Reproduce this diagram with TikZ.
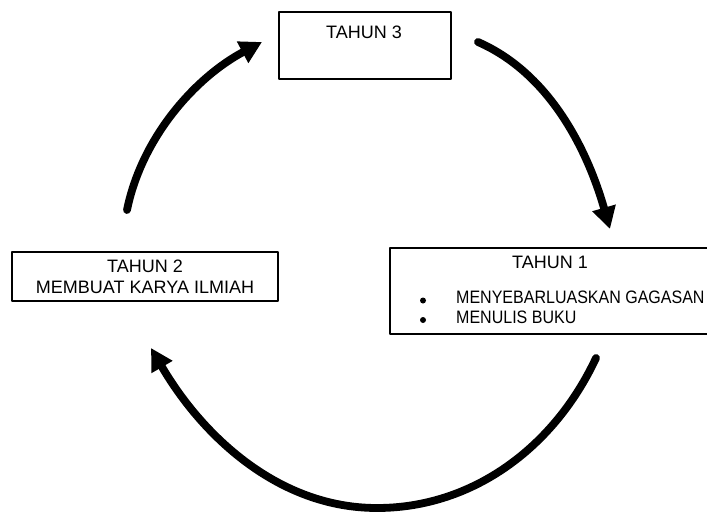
\documentclass[tikz,border=0pt]{standalone}
\usepackage{fontspec}
\setmainfont{Liberation Sans}
\usetikzlibrary{arrows.meta,positioning}

\begin{document}
\begin{tikzpicture}[x=1pt,y=-1pt,line join=round,
  kotak/.style={draw,line width=2pt,inner sep=0pt},
  teks/.style={inner sep=0pt,font=\fontsize{18}{21}\selectfont},
  panah/.style={line width=7.8pt,line cap=round,-{Triangle[length=22pt,width=23pt]}}]
\useasboundingbox (0,0) rectangle (707,514);
\clip (0,0) rectangle (707,514);
% kotak tahun
\node[kotak,minimum width=172pt,minimum height=67pt,anchor=north west] (t3) at (278,11) {};
\node[teks] (t3teks) at (364,32) {TAHUN 3};
\node[kotak,teks,align=center,minimum width=266pt,minimum height=49pt] (t2) at (145,276.5) {TAHUN 2\\MEMBUAT KARYA ILMIAH};
\node[kotak,minimum width=325pt,minimum height=86pt,anchor=north west] (t1) at (389,247) {};
\node[teks] (t1teks) at (550,262) {TAHUN 1};
\node[teks,anchor=west] (gagasan) at (456,297) {\scalebox{0.89}[1]{MENYEBARLUASKAN GAGASAN}};
\node[teks,anchor=west] (buku) at (456,317.5) {\scalebox{0.89}[1]{MENULIS BUKU}};
\coordinate (p1) at (423,300.5);
\coordinate (p2) at (423,320);
\fill (p1) circle (3pt);
\fill (p2) circle (3pt);
% panah siklus
\coordinate (a1) at (478,42);   % ke tahun 1
\coordinate (a2) at (610,229);
\coordinate (b1) at (596,358);  % ke tahun 2
\coordinate (bm) at (377,508);
\coordinate (b2) at (151,348);
\coordinate (c1) at (127,210);  % ke tahun 3
\coordinate (c2) at (262,42);
\draw[panah] (a1) .. controls (551,74) and (588,152) .. (a2);
\draw[panah] (b1) .. controls (555,446) and (474,508) .. (bm) .. controls (277,508) and (201,434) .. (b2);
\draw[panah] (c1) .. controls (142,136.5) and (196,77) .. (c2);
\end{tikzpicture}
\end{document}
